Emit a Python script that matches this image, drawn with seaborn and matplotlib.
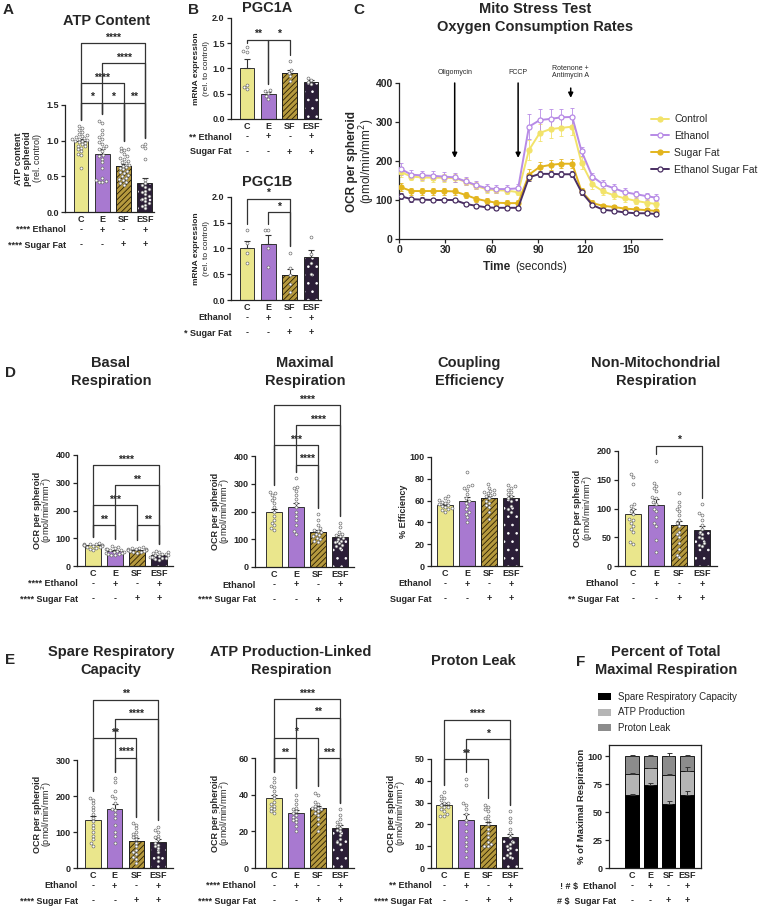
import numpy as np
import pandas as pd
import matplotlib
matplotlib.use('Agg')
import matplotlib.pyplot as plt
from matplotlib.patches import Rectangle, Patch
import seaborn as sns

sns.set_style('ticks')
plt.rcParams['font.family'] = ['Liberation Sans', 'DejaVu Sans']
plt.rcParams['hatch.linewidth'] = 0.6
plt.rcParams['axes.linewidth'] = 0.9
plt.rcParams['axes.edgecolor'] = '#222222'

W, H = 767, 910

# ---- shared groups ----
groups = ['C', 'E', 'SF', 'ESF']
bar_colors = ['#FAF47C', '#A96BDE', '#C9A42A', '#2B1A3B']
ethanol_signs = ['-', '+', '-', '+']
sugarfat_signs = ['-', '-', '+', '+']

# ---- A: ATP content ----
atp_mean = [1.00, 0.82, 0.64, 0.40]
atp_sem = [0.03, 0.06, 0.03, 0.07]
atp_pts = [[1.20, 1.18, 1.15, 1.12, 1.10, 1.08, 1.07, 1.05, 1.04, 1.03, 1.02, 1.01, 1.00,
            0.99, 0.98, 0.97, 0.95, 0.93, 0.92, 0.90, 0.88, 0.85, 0.82, 0.80, 0.62],
           [1.28, 1.25, 1.15, 1.10, 1.05, 1.02, 0.98, 0.95, 0.92, 0.90, 0.88, 0.85, 0.80,
            0.78, 0.75, 0.70, 0.62, 0.48, 0.45, 0.43, 0.42, 0.42],
           [0.90, 0.88, 0.87, 0.85, 0.82, 0.78, 0.76, 0.75, 0.72, 0.70, 0.68, 0.66, 0.65,
            0.63, 0.62, 0.60, 0.58, 0.56, 0.55, 0.52, 0.50, 0.48, 0.46, 0.45, 0.42, 0.40, 0.38],
           [0.95, 0.93, 0.90, 0.75, 0.45, 0.40, 0.38, 0.35, 0.32, 0.30, 0.28, 0.25, 0.22,
            0.20, 0.18, 0.15, 0.12, 0.10, 0.08, 0.05]]
atp_brackets = [(0, 1, 1.53, '*'), (1, 2, 1.53, '*'), (2, 3, 1.53, '**'),
                (0, 2, 1.81, '****'), (1, 3, 2.09, '****'), (0, 3, 2.37, '****')]

# ---- B: PGC1A / PGC1B ----
pgc1a_mean = [1.00, 0.50, 0.91, 0.74]
pgc1a_sem = [0.18, 0.04, 0.07, 0.04]
pgc1a_pts = [[1.42, 1.35, 1.33, 0.68, 0.63, 0.60], [0.58, 0.55, 0.52, 0.45, 0.40],
             [1.15, 0.98, 0.92, 0.85, 0.75], [0.82, 0.78, 0.74, 0.70]]
pgc1a_brackets = [(0, 1, 1.57, '**'), (1, 2, 1.57, '*')]

pgc1b_mean = [1.00, 1.09, 0.48, 0.83]
pgc1b_sem = [0.14, 0.17, 0.13, 0.15]
pgc1b_pts = [[1.35, 1.10, 0.92, 0.72], [1.36, 1.36, 1.00, 0.64],
             [0.92, 0.62, 0.48, 0.32, 0.15], [1.22, 0.90, 0.72, 0.50]]
pgc1b_brackets = [(0, 2, 1.97, '*'), (1, 2, 1.71, '*')]

# ---- C: Mito stress test time course ----
times = [1, 8, 15, 22, 29, 36, 43, 50, 57, 63, 70, 77, 84, 91, 98, 105, 112,
         118, 125, 132, 139, 146, 153, 160, 166]
ocr_control = [172, 160, 158, 157, 157, 156, 147, 136, 127, 125, 124, 120, 228, 272, 282,
               285, 288, 195, 140, 122, 112, 104, 98, 93, 90]
ocr_ethanol = [180, 165, 163, 162, 160, 158, 148, 138, 130, 128, 128, 130, 288, 305, 308,
               312, 313, 225, 160, 140, 130, 120, 115, 110, 106]
ocr_sugarfat = [133, 123, 123, 123, 123, 122, 113, 103, 97, 93, 92, 92, 165, 185, 190,
                193, 193, 122, 92, 85, 82, 78, 76, 74, 72]
ocr_esf = [110, 102, 101, 100, 100, 100, 90, 85, 81, 80, 80, 80, 158, 167, 167,
           166, 166, 120, 87, 75, 72, 68, 66, 66, 64]
err_control = [12, 10, 10, 10, 10, 10, 9, 9, 8, 8, 8, 8, 25, 22, 22, 22, 22, 15, 12, 10, 10, 10, 9, 9, 9]
err_ethanol = [15, 12, 12, 12, 12, 12, 10, 10, 10, 10, 10, 10, 32, 28, 25, 22, 22, 12, 10, 10, 10, 10, 9, 9, 9]
err_sugarfat = [10, 9, 9, 9, 9, 9, 8, 8, 8, 7, 7, 7, 15, 13, 13, 12, 12, 8, 7, 6, 6, 6, 6, 6, 6]
err_esf = [8, 6, 6, 6, 6, 6, 6, 5, 5, 5, 5, 5, 10, 8, 8, 8, 8, 6, 5, 5, 5, 5, 5, 5, 5]
series_names = ['Control', 'Ethanol', 'Sugar Fat', 'Ethanol Sugar Fat']
line_colors = ['#F2E36A', '#B78AE6', '#E3B51E', '#4A2F63']
injections = [('Oligomycin', 36), ('FCCP', 77), ('Rotenone +\nAntimycin A', 111)]

# ---- D ----
basal_mean = [74, 55, 58, 38]
basal_sem = [2, 3, 2, 3]
basal_pts = [[82, 80, 79, 78, 77, 76, 76, 75, 74, 73, 72, 70, 68, 66, 62, 58],
             [72, 68, 65, 62, 60, 58, 56, 54, 52, 50, 48, 46, 44, 42, 40, 38],
             [68, 66, 64, 63, 62, 60, 59, 58, 57, 56, 55, 54, 52, 50, 48],
             [55, 52, 50, 48, 45, 42, 40, 38, 36, 34, 32, 30, 28, 25, 22]]
basal_brackets = [(0, 1, 148, '**'), (2, 3, 148, '**'), (0, 2, 220, '***'),
                  (1, 3, 292, '**'), (0, 3, 364, '****')]

maximal_mean = [198, 215, 125, 107]
maximal_sem = [12, 15, 8, 7]
maximal_pts = [[272, 265, 260, 250, 240, 230, 215, 200, 185, 170, 160, 150, 140, 132],
               [320, 290, 285, 275, 260, 245, 230, 215, 200, 185, 170, 150, 130, 120],
               [190, 170, 150, 140, 135, 130, 125, 120, 115, 110, 105, 100, 95, 90],
               [160, 145, 125, 120, 115, 110, 105, 100, 95, 90, 85, 80, 75, 70]]
maximal_brackets = [(1, 2, 368, '****'), (0, 2, 440, '***'), (1, 3, 512, '****'), (0, 3, 584, '****')]

coupling_mean = [56, 60, 62, 62]
coupling_sem = [1.2, 3, 2, 2.5]
coupling_pts = [[64, 62, 61, 60, 59, 58, 57, 56, 55, 54, 53, 52, 51, 50],
                [86, 74, 73, 72, 70, 66, 62, 60, 58, 55, 52, 50, 48, 45, 40],
                [75, 72, 70, 69, 68, 67, 66, 65, 64, 62, 60, 58, 56, 54, 50, 43],
                [74, 73, 72, 70, 68, 66, 64, 62, 60, 55, 52, 50]]

nonmito_mean = [90, 106, 71, 63]
nonmito_sem = [9, 10, 8, 6]
nonmito_pts = [[160, 155, 142, 108, 105, 100, 95, 90, 82, 80, 75, 70, 65, 60, 42, 38],
               [182, 145, 140, 135, 130, 120, 118, 112, 108, 100, 95, 85, 75, 70, 45, 25],
               [127, 112, 105, 100, 95, 88, 80, 75, 70, 60, 55, 50, 40, 30, 20, 15],
               [107, 92, 88, 80, 72, 65, 60, 55, 50, 48, 40, 37, 35]]
nonmito_brackets = [(1, 3, 209, '*')]

# ---- E ----
spare_mean = [132, 163, 74, 72]
spare_sem = [12, 15, 9, 8]
spare_pts = [[195, 190, 180, 170, 160, 150, 140, 130, 120, 110, 100, 90, 80, 70, 62],
             [250, 240, 215, 200, 195, 180, 165, 160, 150, 140, 120, 100, 90, 70],
             [125, 120, 110, 100, 95, 90, 85, 80, 70, 60, 50, 45, 40, 30, 25, 15],
             [115, 105, 100, 90, 85, 80, 70, 65, 60, 55, 45, 30, 20]]
spare_brackets = [(1, 2, 306, '****'), (0, 2, 361, '**'), (1, 3, 414, '****'), (0, 3, 467, '**')]

atplinked_mean = [38, 30, 32.5, 22]
atplinked_sem = [1.8, 1.4, 1.4, 1.6]
atplinked_pts = [[49, 47, 45, 44, 42, 40, 38, 36, 35, 34, 33, 32, 31, 30],
                 [40, 37, 35, 33, 32, 31, 30, 29, 28, 27, 26, 25, 23, 20],
                 [41, 40, 36, 35, 34, 33, 33, 32, 32, 31, 30, 29, 27, 24, 20],
                 [32, 29, 27, 25, 24, 23, 22, 21, 20, 18, 16, 14, 13]]
atplinked_brackets = [(0, 1, 60, '**'), (2, 3, 60, '***'), (0, 2, 71, '*'),
                      (1, 3, 82, '**'), (0, 3, 92, '****')]

leak_mean = [29, 22, 19.5, 14]
leak_sem = [0.9, 3, 1.8, 1.8]
leak_pts = [[35, 33, 32, 31, 30, 30, 29, 28, 28, 27, 26, 25, 24, 24],
            [41, 38, 30, 29, 27, 25, 22, 20, 17, 14, 12, 10, 8, 5],
            [29, 28, 27, 26, 24, 23, 22, 20, 18, 16, 14, 12, 11, 10, 10],
            [26, 23, 21, 18, 16, 14, 12, 11, 10, 9, 7, 6, 5]]
leak_brackets = [(0, 2, 50, '**'), (1, 3, 59, '*'), (0, 3, 68, '****')]

# ---- F: percent of maximal ----
pct_spare = [65, 74, 57, 65]
pct_atp = [19, 15, 26, 22]
pct_leak = [16, 11, 17, 13]
pct_spare_err = [1.5, 2, 3, 4]
pct_atp_err = [1, 0.5, 1, 3]
pct_leak_err = [1.5, 1.5, 2.5, 1.5]

OCR_LAB = [('OCR per spheroid', 'bold', 40), ('(pmol/min/mm$^2$)', 'normal', 30)]

fig = plt.figure(figsize=(W / 100, H / 100), dpi=100)


def rect(l, t, r, b):
    return [l / W, 1 - b / H, (r - l) / W, (b - t) / H]


def ftext(x, y, s, **kw):
    fig.text(x / W, 1 - y / H, s, **kw)


def rows(ax, eth_lab, sf_lab, lab_dx=1):
    for k in range(4):
        for s, dy in ((ethanol_signs[k], -18), (sugarfat_signs[k], -33)):
            ax.annotate(s, xy=(k, 0), xycoords=('data', 'axes fraction'), xytext=(0, dy),
                        textcoords='offset pixels', ha='center', va='center',
                        fontsize=6.5, fontweight='bold', annotation_clip=False)
    for s, dy in ((eth_lab, -18), (sf_lab, -33)):
        ax.annotate(s, xy=(0, 0), xycoords='axes fraction', xytext=(lab_dx, dy),
                    textcoords='offset pixels', ha='right', va='center',
                    fontsize=6.5, fontweight='bold', annotation_clip=False)


def ylabels(ax, labs, fs=6.5):
    for s, wt, off in labs:
        ax.annotate(s, xy=(0, 0.5), xycoords='axes fraction', xytext=(-off, 0),
                    textcoords='offset pixels', rotation=90, ha='center', va='center',
                    fontsize=fs, fontweight=wt, linespacing=1.1, annotation_clip=False)


def bar_panel(box, xlim, ylim, yticks, fmt, mean, sem, pts, brackets, eth_lab, sf_lab, labs,
              lab_fs=6.5):
    ax = fig.add_axes(rect(*box))
    sns.barplot(x=groups, y=mean, hue=groups, order=groups, hue_order=groups,
                palette=bar_colors, legend=False, width=0.7, edgecolor='#333333',
                linewidth=0.7, errorbar=None, ax=ax)
    bars = list(ax.patches[:4])
    bars[2].set_hatch('//////')
    bars[2].set_edgecolor('#2a1e02')
    bars[3].set_hatch('..')
    bars[3].set_edgecolor('white')
    for p in bars[2:]:
        ax.add_patch(Rectangle(p.get_xy(), p.get_width(), p.get_height(), fill=False,
                               edgecolor='#222222', lw=0.7, zorder=p.get_zorder() + 0.1))
    ax.errorbar(range(4), mean, yerr=[np.zeros(4), sem], fmt='none', ecolor='#333333',
                elinewidth=0.8, capsize=2, capthick=0.8, zorder=4)
    df = pd.DataFrame({'g': np.repeat(groups, [len(p) for p in pts]),
                       'v': np.concatenate(pts)})
    sns.swarmplot(data=df, x='g', y='v', order=groups, color='white', edgecolor='#666666',
                  linewidth=0.45, size=2.1, warn_thresh=1, ax=ax, zorder=5)
    ax.set_xlim(xlim)
    ax.set_ylim(ylim)
    ax.set_yticks(yticks)
    ax.set_yticklabels([fmt.format(v) for v in yticks], fontweight='bold', fontsize=6.5)
    ax.set_xticks(range(4))
    ax.set_xticklabels(groups, fontweight='bold', fontsize=6.5)
    ax.tick_params(axis='x', length=0, pad=2.5)
    ax.tick_params(axis='y', length=3, width=0.9, pad=1.5)
    ax.set_xlabel('')
    ax.set_ylabel('')
    sns.despine(ax=ax)
    ymax = ylim[1]
    for i, j, y, lab in brackets:
        legs = []
        for k in (i, j):
            top = max(max(pts[k]), mean[k] + sem[k]) + 0.06 * ymax
            legs.append(min(top, y - 0.03 * ymax))
        ax.plot([i, i, j, j], [legs[0], y, y, legs[1]], color='#333333', lw=0.9,
                clip_on=False, zorder=6)
        ax.text((i + j) / 2, y + 0.005 * ymax, lab, ha='center', va='bottom',
                fontsize=7.5, fontweight='bold', clip_on=False)
    rows(ax, eth_lab, sf_lab)
    ylabels(ax, labs, fs=lab_fs)
    return ax


def title(x, y, s):
    ftext(x, y, s, ha='center', va='center', fontsize=10.5, fontweight='bold', linespacing=1.3)


# ---------------- A ----------------
bar_panel((65, 105, 154, 212), (-0.75, 3.43), (0, 1.5), [0, 0.5, 1.0, 1.5], '{:.1f}',
          atp_mean, atp_sem, atp_pts, atp_brackets, '**** Ethanol', '**** Sugar Fat',
          [('ATP content\nper spheroid', 'bold', 42), ('(rel. control)', 'normal', 27)])
title(107, 21, 'ATP Content')

# ---------------- B ----------------
pgc_lab = [('mRNA expression', 'bold', 34), ('(rel. to control)', 'normal', 25)]
bar_panel((231, 18, 321, 119), (-0.75, 3.47), (0, 2), [0, 0.5, 1.0, 1.5, 2.0], '{:.1f}',
          pgc1a_mean, pgc1a_sem, pgc1a_pts, pgc1a_brackets, '** Ethanol', 'Sugar Fat', pgc_lab,
          lab_fs=6)
title(267, 8, 'PGC1A')
bar_panel((231, 197, 321, 300), (-0.75, 3.47), (0, 2), [0, 0.5, 1.0, 1.5, 2.0], '{:.1f}',
          pgc1b_mean, pgc1b_sem, pgc1b_pts, pgc1b_brackets, 'Ethanol', '* Sugar Fat', pgc_lab,
          lab_fs=6)
title(267, 182, 'PGC1B')

# ---------------- C ----------------
axc = fig.add_axes(rect(399, 83, 662, 239))
series = [ocr_control, ocr_ethanol, ocr_sugarfat, ocr_esf]
errs = [err_control, err_ethanol, err_sugarfat, err_esf]
faces = [line_colors[0], 'white', line_colors[2], 'white']
for vals, err, name, col, fc in zip(series, errs, series_names, line_colors, faces):
    axc.errorbar(times, vals, yerr=err, fmt='none', ecolor=col, elinewidth=0.7,
                 capsize=1.5, capthick=0.7, alpha=0.85, zorder=2)
    sns.lineplot(x=times, y=vals, color=col, marker='o', markersize=3.6,
                 markerfacecolor=fc, markeredgecolor=col, markeredgewidth=0.9,
                 linewidth=1.4, label=name, ax=axc, zorder=3)
axc.set_xlim(0, 170)
axc.set_ylim(0, 400)
axc.set_xticks([0, 30, 60, 90, 120, 150])
axc.set_xticklabels([0, 30, 60, 90, 120, 150], fontweight='bold', fontsize=7.5)
axc.set_yticks([0, 100, 200, 300, 400])
axc.set_yticklabels([0, 100, 200, 300, 400], fontweight='bold', fontsize=7.5)
axc.tick_params(length=3, width=0.9, pad=1.5)
axc.set_xlabel('')
axc.set_ylabel('')
sns.despine(ax=axc)
h, l = axc.get_legend_handles_labels()
axc.legend(h, l, loc='upper left', bbox_to_anchor=(0.96, 0.80), frameon=False, fontsize=7.5,
           handlelength=1.7, labelspacing=0.65, borderaxespad=0, borderpad=0,
           handletextpad=0.5)
for lab, t in injections:
    if lab == 'FCCP' or lab == 'Oligomycin':
        y0, y1, ty = 400, 208, 428
    else:
        y0, y1, ty = 387, 362, 428
    axc.annotate('', xy=(t, y1), xytext=(t, y0), annotation_clip=False,
                 arrowprops=dict(arrowstyle='-|>', color='black', lw=1.1,
                                 mutation_scale=7, shrinkA=0, shrinkB=0))
    axc.text(t, ty, lab, ha='center', va='center', fontsize=5, clip_on=False, linespacing=1.1)
ylabels(axc, [('OCR per spheroid', 'bold', 47), ('(pmol/min/mm$^2$)', 'normal', 32)], fs=8.5)
axc.annotate('Time ', xy=(0.435, 0), xycoords='axes fraction', xytext=(0, -28),
             textcoords='offset pixels', ha='right', va='center', fontsize=8.5,
             fontweight='bold', annotation_clip=False)
axc.annotate('(seconds)', xy=(0.435, 0), xycoords='axes fraction', xytext=(2, -28),
             textcoords='offset pixels', ha='left', va='center', fontsize=8.5,
             annotation_clip=False)
ftext(535, 18, 'Mito Stress Test\nOxygen Consumption Rates', ha='center', va='center',
      fontsize=10.5, fontweight='bold', linespacing=1.3)

# ---------------- D ----------------
bar_panel((77, 455, 173, 566), (-0.73, 3.64), (0, 400), [0, 100, 200, 300, 400], '{:d}',
          basal_mean, basal_sem, basal_pts, basal_brackets, '**** Ethanol', '**** Sugar Fat', OCR_LAB)
title(111, 372, 'Basal\nRespiration')
bar_panel((255, 456, 354, 567), (-0.86, 3.64), (0, 400), [0, 100, 200, 300, 400], '{:d}',
          maximal_mean, maximal_sem, maximal_pts, maximal_brackets, 'Ethanol', '**** Sugar Fat', OCR_LAB)
title(305, 372, 'Maximal\nRespiration')
bar_panel((431, 457, 522, 566), (-0.64, 3.5), (0, 100), [0, 20, 40, 60, 80, 100], '{:d}',
          coupling_mean, coupling_sem, coupling_pts, [], 'Ethanol', 'Sugar Fat',
          [('% Efficiency', 'bold', 28)])
title(469, 372, 'Coupling\nEfficiency')
bar_panel((618, 451, 717, 566), (-0.65, 3.65), (0, 200), [0, 50, 100, 150, 200], '{:d}',
          nonmito_mean, nonmito_sem, nonmito_pts, nonmito_brackets, 'Ethanol', '** Sugar Fat', OCR_LAB)
title(656, 372, 'Non-Mitochondrial\nRespiration')

# ---------------- E ----------------
bar_panel((77, 760, 173, 868), (-0.74, 3.69), (0, 300), [0, 100, 200, 300], '{:d}',
          spare_mean, spare_sem, spare_pts, spare_brackets, 'Ethanol', '**** Sugar Fat', OCR_LAB)
title(111, 661, 'Spare Respiratory\nCapacity')
bar_panel((255, 758, 354, 868), (-0.86, 3.64), (0, 60), [0, 20, 40, 60], '{:d}',
          atplinked_mean, atplinked_sem, atplinked_pts, atplinked_brackets,
          '**** Ethanol', '**** Sugar Fat', OCR_LAB)
title(291, 661, 'ATP Production-Linked\nRespiration')
bar_panel((431, 759, 522, 868), (-0.59, 3.55), (0, 50), [0, 10, 20, 30, 40, 50], '{:d}',
          leak_mean, leak_sem, leak_pts, leak_brackets, '** Ethanol', '**** Sugar Fat', OCR_LAB)
title(473, 661, 'Proton Leak')

# ---------------- F ----------------
axf = fig.add_axes(rect(609, 745, 701, 868))
cum_atp = [s + a for s, a in zip(pct_spare, pct_atp)]
cum_tot = [c + k for c, k in zip(cum_atp, pct_leak)]
for vals, col in ((cum_tot, '#8C8C8C'), (cum_atp, '#B5B5B5'), (pct_spare, '#000000')):
    sns.barplot(x=groups, y=vals, order=groups, color=col, width=0.73, edgecolor='black',
                linewidth=0.6, errorbar=None, ax=axf)
for vals, err in ((pct_spare, pct_spare_err), (cum_atp, pct_atp_err), (cum_tot, pct_leak_err)):
    axf.errorbar(range(4), vals, yerr=[np.zeros(4), err], fmt='none', ecolor='#333333',
                 elinewidth=0.7, capsize=1.8, capthick=0.7, zorder=4)
axf.set_xlim(-1.25, 3.77)
axf.set_ylim(0, 110)
axf.set_yticks([0, 25, 50, 75, 100])
axf.set_yticklabels([0, 25, 50, 75, 100], fontweight='bold', fontsize=6.5)
axf.set_xticks(range(4))
axf.set_xticklabels(groups, fontweight='bold', fontsize=6.5)
axf.tick_params(axis='x', length=0, pad=2.5)
axf.tick_params(axis='y', length=3, width=0.9, pad=1.5)
axf.set_xlabel('')
axf.set_ylabel('')
for sp in axf.spines.values():
    sp.set_visible(True)
    sp.set_linewidth(0.9)
leg_handles = [Patch(facecolor='#000000', edgecolor='none'),
               Patch(facecolor='#B5B5B5', edgecolor='none'),
               Patch(facecolor='#8C8C8C', edgecolor='none')]
axf.legend(leg_handles, ['Spare Respiratory Capacity', 'ATP Production', 'Proton Leak'],
           loc='upper left', bbox_to_anchor=(-0.12, 1.43), frameon=False, fontsize=7,
           handlelength=1.35, handleheight=0.75, labelspacing=0.55, borderaxespad=0,
           borderpad=0, handletextpad=0.7)
rows(axf, '! # $  Ethanol', '# $  Sugar Fat', lab_dx=7)
ylabels(axf, [('% of Maximal Respiration', 'bold', 27)], fs=6.8)
ftext(666, 661, 'Percent of Total\nMaximal Respiration', ha='center', va='center',
      fontsize=10.5, fontweight='bold', linespacing=1.3)

# ---------------- panel letters ----------------
for s, x, y in (('A', 3, 3), ('B', 188, 3), ('C', 353, 3), ('D', 5, 366), ('E', 5, 653), ('F', 576, 655)):
    ftext(x, y, s, fontsize=11, fontweight='bold', va='top', ha='left')

fig.savefig('out.png', dpi=100)
